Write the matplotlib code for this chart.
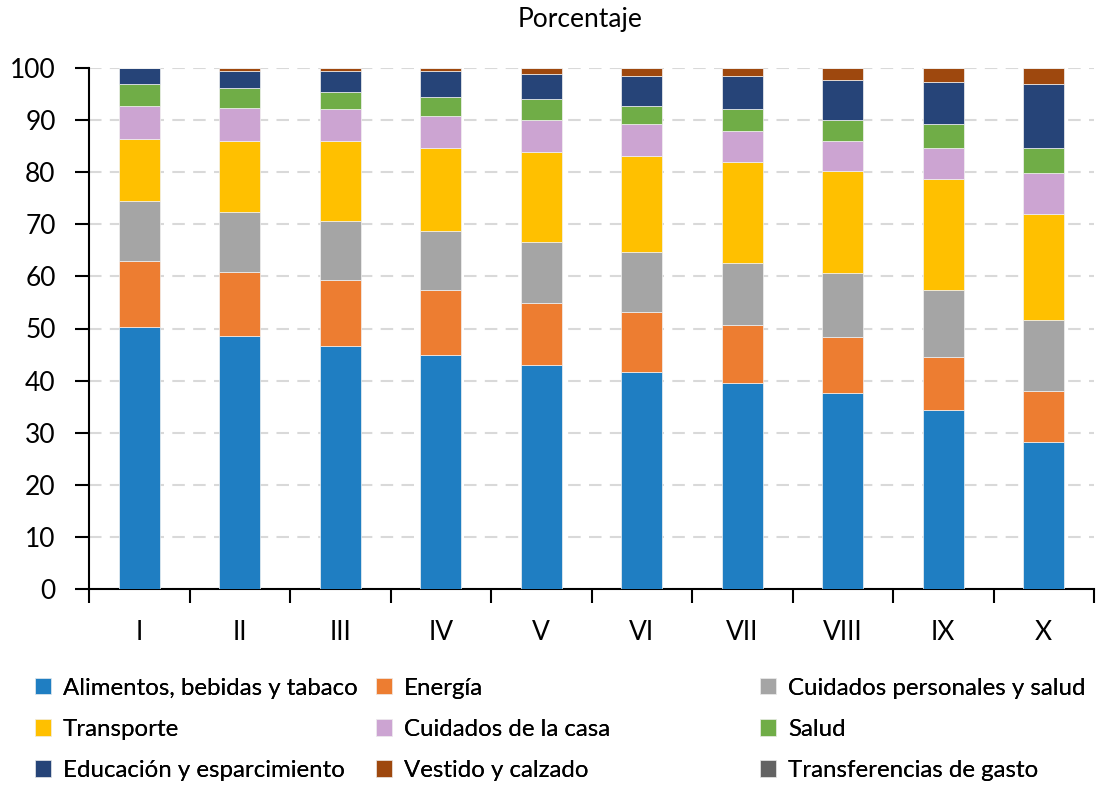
import numpy as np
import matplotlib.pyplot as plt

plt.rcParams['font.family'] = ['Lato', 'DejaVu Sans']

# DATA
deciles = ["I", "II", "III", "IV", "V", "VI", "VII", "VIII", "IX", "X"]

alimentos = [50.3, 48.6, 46.6, 45.0, 42.9, 41.7, 39.6, 37.6, 34.4, 28.2]
energia = [12.7, 12.3, 12.7, 12.3, 11.9, 11.5, 11.1, 10.7, 10.2, 9.8]
cuid_personales = [11.5, 11.5, 11.4, 11.4, 11.8, 11.4, 11.9, 12.3, 12.7, 13.6]
transporte = [11.8, 13.5, 15.2, 16.0, 17.2, 18.5, 19.3, 19.6, 21.3, 20.4]
cuid_casa = [6.5, 6.5, 6.2, 6.1, 6.2, 6.1, 6.1, 5.7, 6.1, 7.8]
salud = [4.2, 3.7, 3.2, 3.7, 4.1, 3.6, 4.1, 4.1, 4.5, 4.9]
educacion = [3.0, 3.4, 4.1, 4.9, 4.8, 5.7, 6.4, 7.7, 8.2, 12.2]
vestido = [0.0, 0.5, 0.6, 0.6, 1.1, 1.5, 1.5, 2.3, 2.6, 3.1]
transferencias = [0.0, 0.0, 0.0, 0.0, 0.0, 0.0, 0.0, 0.0, 0.0, 0.0]

series = [alimentos, energia, cuid_personales, transporte, cuid_casa,
          salud, educacion, vestido, transferencias]
labels = ["Alimentos, bebidas y tabaco", "Energía", "Cuidados personales y salud",
          "Transporte", "Cuidados de la casa", "Salud",
          "Educación y esparcimiento", "Vestido y calzado", "Transferencias de gasto"]
colors = ["#1F7EC2", "#ED7D31", "#A5A5A5", "#FFC000", "#CCA4D2",
          "#70AD47", "#264478", "#9E480E", "#636363"]

# FIGURE
fig = plt.figure(figsize=(11.02, 7.86), dpi=100)
ax = fig.add_axes([89 / 1102, 1 - 589 / 786, (1094 - 89) / 1102, (589 - 68) / 786])

x = np.arange(len(deciles))
bottom = np.zeros(len(deciles))
handles = []
for vals, lab, col in zip(series, labels, colors):
    vals = np.array(vals)
    h = ax.bar(x, vals, width=0.41, bottom=bottom, color=col, label=lab,
               edgecolor="#F2F2F2", linewidth=0.5, zorder=3)
    handles.append(h)
    bottom += vals

ax.set_xlim(-0.5, 9.5)
ax.set_ylim(0, 100)
ax.set_yticks(np.arange(0, 101, 10))
ax.yaxis.grid(True, color="#D9D9D9", linestyle=(0, (6, 4)), linewidth=1.5, zorder=0)

# category labels on minor ticks, tick marks between categories
ax.set_xticks(np.arange(-0.5, 10, 1))
ax.set_xticklabels([])
ax.set_xticks(x, minor=True)
ax.set_xticklabels(deciles, minor=True)
ax.tick_params(axis="x", which="major", length=10, width=1.5, direction="out")
ax.tick_params(axis="x", which="minor", length=0, pad=22, labelsize=19)
ax.tick_params(axis="y", length=10, width=1.5, direction="out", labelsize=19, pad=14)

for s in ["top", "right"]:
    ax.spines[s].set_visible(False)
ax.spines["left"].set_linewidth(1.5)
ax.spines["bottom"].set_linewidth(1.5)

fig.text(580 / 1102, 1 - 20 / 786, "Porcentaje", ha="center", va="center", fontsize=19)

# legend in three columns, placed individually
cols = [[0, 3, 6], [1, 4, 7], [2, 5, 8]]
col_x = [25, 366, 750]
for idx, cx in zip(cols, col_x):
    leg = fig.legend([handles[i] for i in idx], [labels[i] for i in idx],
                     loc="upper left", bbox_to_anchor=(cx / 1102, 1 - 668 / 786),
                     frameon=False, fontsize=17.3, handlelength=0.68, handleheight=0.68,
                     handletextpad=0.5, labelspacing=0.84, borderaxespad=0)
    fig.add_artist(leg)

fig.savefig("out.png", dpi=100)
